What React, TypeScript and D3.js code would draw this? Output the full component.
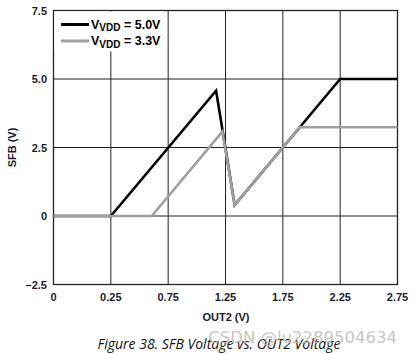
import React, { useRef, useEffect } from "react";
import * as d3 from "d3";

// x axis ticks as printed on the datasheet (first division is 0.25, others 0.5)
const xTicks = [0, 0.25, 0.75, 1.25, 1.75, 2.25, 2.75];
const yTicks = [-2.5, 0, 2.5, 5.0, 7.5];

// SFB (V) vs OUT2 (V)
const vdd50X = [0, 0.25, 1.168, 1.33, 1.75, 2.25, 2.75];
const vdd50Y = [0, 0, 4.57, 0.4, 2.5, 5.0, 5.0];
const vdd33X = [0, 0.607, 1.223, 1.33, 1.75, 1.895, 2.75];
const vdd33Y = [0, 0, 3.08, 0.4, 2.5, 3.24, 3.24];

const W = 413;
const H = 354;

export default function App() {
  const svgRef = useRef<SVGSVGElement>(null);

  useEffect(() => {
    const svg = d3.select(svgRef.current);
    svg.selectAll("*").remove();

    const left = 53.5, right = 397.5, top = 10.5, bottom = 284.5;
    const font = "'Liberation Sans', Arial, sans-serif";

    // piecewise linear: each printed tick sits on an even grid division
    const x = d3
      .scaleLinear()
      .domain(xTicks)
      .range(xTicks.map((d, i) => left + (i * (right - left)) / (xTicks.length - 1)));
    const y = d3.scaleLinear().domain([-2.5, 7.5]).range([bottom, top]);

    const g = svg.append("g");

    // grid
    g.selectAll(".vgrid")
      .data(xTicks)
      .enter()
      .append("line")
      .attr("x1", (d) => x(d))
      .attr("x2", (d) => x(d))
      .attr("y1", top)
      .attr("y2", bottom)
      .attr("stroke", "#222")
      .attr("stroke-width", 1);
    g.selectAll(".hgrid")
      .data(yTicks)
      .enter()
      .append("line")
      .attr("x1", left)
      .attr("x2", right)
      .attr("y1", (d) => y(d))
      .attr("y2", (d) => y(d))
      .attr("stroke", "#222")
      .attr("stroke-width", 1);

    g.append("rect")
      .attr("x", left)
      .attr("y", top)
      .attr("width", right - left)
      .attr("height", bottom - top)
      .attr("fill", "none")
      .attr("stroke", "#222")
      .attr("stroke-width", 1.3);

    // legend box hides grid behind it
    g.append("rect")
      .attr("x", left + 1)
      .attr("y", top + 1)
      .attr("width", 110)
      .attr("height", 40)
      .attr("fill", "#fff");

    const line = d3
      .line<[number, number]>()
      .x((d) => x(d[0]))
      .y((d) => y(d[1]));

    const series = [
      { xs: vdd50X, ys: vdd50Y, color: "#000", label: "5.0V" },
      { xs: vdd33X, ys: vdd33Y, color: "#a0a0a0", label: "3.3V" },
    ];

    series.forEach((s) => {
      g.append("path")
        .datum(s.xs.map((v, i) => [v, s.ys[i]] as [number, number]))
        .attr("d", line)
        .attr("fill", "none")
        .attr("stroke", s.color)
        .attr("stroke-width", 2.6)
        .attr("stroke-linejoin", "miter");
    });

    // legend
    series.forEach((s, i) => {
      const ly = 24.5 + i * 16.5;
      g.append("line")
        .attr("x1", 61)
        .attr("x2", 89)
        .attr("y1", ly)
        .attr("y2", ly)
        .attr("stroke", s.color)
        .attr("stroke-width", 3);
      const t = g
        .append("text")
        .attr("x", 91)
        .attr("y", ly + 4)
        .attr("font-family", font)
        .attr("font-weight", "bold")
        .attr("font-size", 12.5)
        .attr("fill", "#000");
      t.append("tspan").text("V");
      t.append("tspan").attr("font-size", 10).attr("dy", 2.5).text("VDD");
      t.append("tspan").attr("dy", -2.5).text(` = ${s.label}`);
    });

    // y tick labels
    g.selectAll(".ylab")
      .data(yTicks)
      .enter()
      .append("text")
      .attr("x", 47)
      .attr("y", (d) => y(d) + 4)
      .attr("text-anchor", "end")
      .attr("font-family", font)
      .attr("font-weight", "bold")
      .attr("font-size", 11)
      .attr("fill", "#1a1a2e")
      .text((d) => (d === 0 ? "0" : d < 0 ? "\u2013" + d3.format(".1f")(-d) : d3.format(".1f")(d)));

    // x tick labels
    g.selectAll(".xlab")
      .data(xTicks)
      .enter()
      .append("text")
      .attr("x", (d) => x(d))
      .attr("y", 301)
      .attr("text-anchor", "middle")
      .attr("font-family", font)
      .attr("font-weight", "bold")
      .attr("font-size", 11)
      .attr("fill", "#1a1a2e")
      .text((d) => String(d));

    g.append("text")
      .attr("x", 226)
      .attr("y", 321)
      .attr("text-anchor", "middle")
      .attr("font-family", font)
      .attr("font-weight", "bold")
      .attr("font-size", 11)
      .attr("fill", "#1a1a2e")
      .text("OUT2 (V)");

    g.append("text")
      .attr("transform", `translate(16,${(top + bottom) / 2}) rotate(-90)`)
      .attr("text-anchor", "middle")
      .attr("font-family", font)
      .attr("font-weight", "bold")
      .attr("font-size", 11)
      .attr("fill", "#1a1a2e")
      .text("SFB (V)");

    g.append("text")
      .attr("x", 219)
      .attr("y", 349)
      .attr("text-anchor", "middle")
      .attr("font-family", "'Open Sans', sans-serif")
      .attr("font-style", "italic")
      .attr("font-size", 14)
      .attr("fill", "#111")
      .text("Figure 38. SFB Voltage vs. OUT2 Voltage");

    g.append("text")
      .attr("x", 397)
      .attr("y", 343)
      .attr("text-anchor", "end")
      .attr("font-family", "'DejaVu Sans', sans-serif")
      .attr("font-size", 16.5)
      .attr("fill", "#bbbbbb")
      .attr("fill-opacity", 0.85)
      .text("CSDN @lu2289504634");
  }, []);

  return (
    <svg
      ref={svgRef}
      width={W}
      height={H}
      style={{ position: "absolute", left: 0, top: 0, background: "#fff" }}
    />
  );
}
